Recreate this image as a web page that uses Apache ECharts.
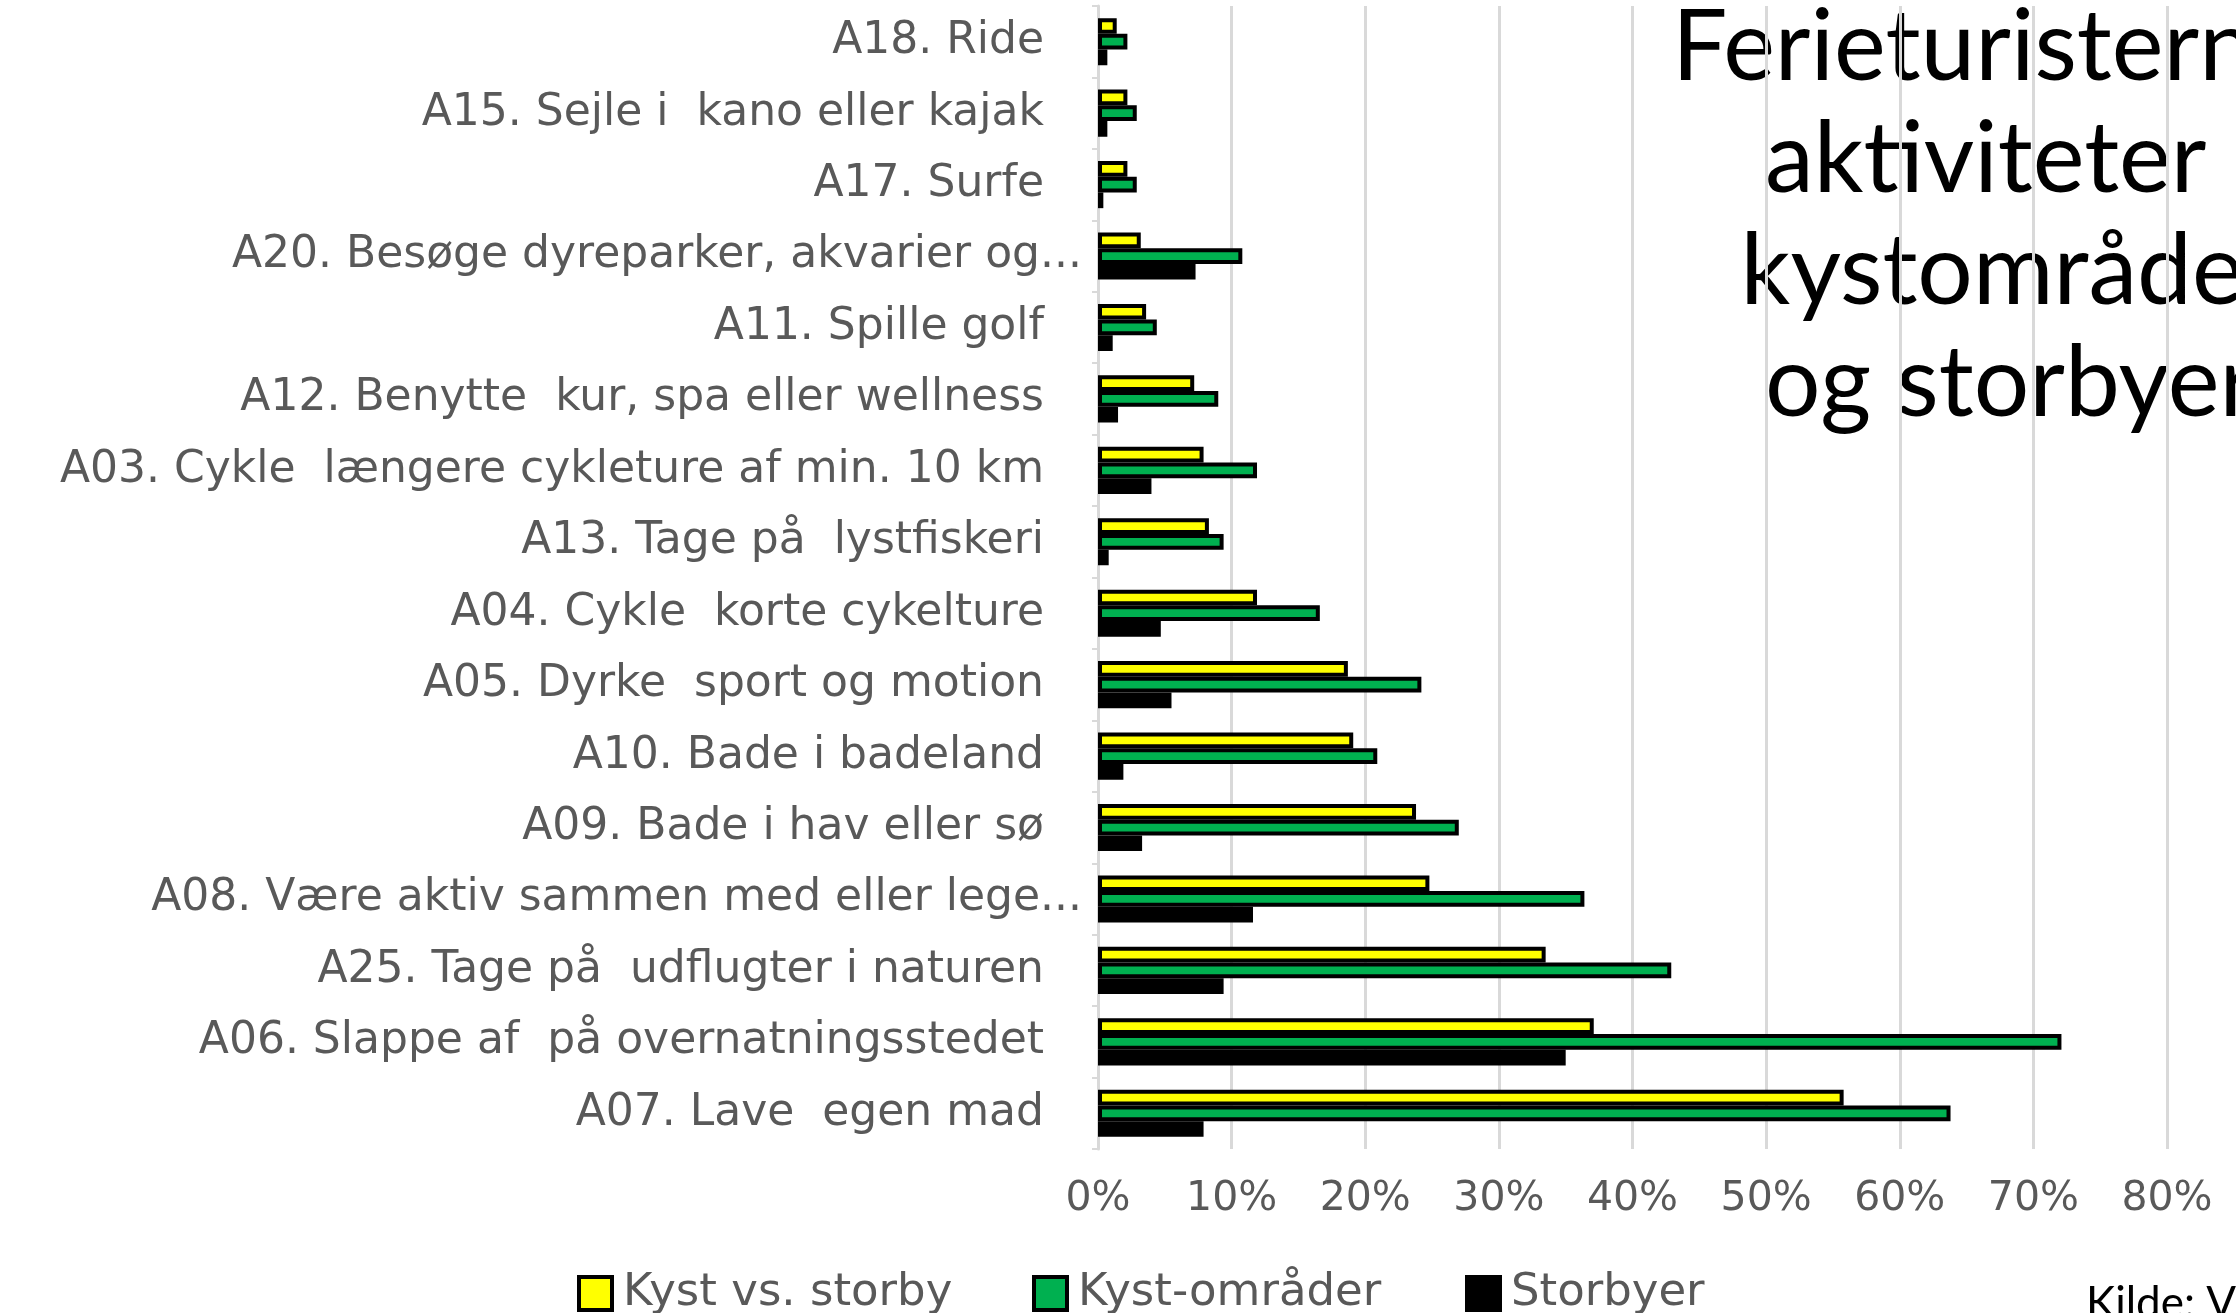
<!DOCTYPE html>
<html>
<head>
<meta charset="utf-8">
<script src="https://cdn.jsdelivr.net/npm/echarts@6/dist/echarts.min.js"></script>
<style>
html,body{margin:0;padding:0;background:#fff;}
#chart{width:2236px;height:1313px;}
</style>
</head>
<body>
<div id="chart"></div>
<script>
// Categories, listed top to bottom as in the picture
const categories = [
  "A18. Ride",
  "A15. Sejle i  kano eller kajak",
  "A17. Surfe",
  "A20. Besøge dyreparker, akvarier og...",
  "A11. Spille golf",
  "A12. Benytte  kur, spa eller wellness",
  "A03. Cykle  længere cykleture af min. 10 km",
  "A13. Tage på  lystfiskeri",
  "A04. Cykle  korte cykelture",
  "A05. Dyrke  sport og motion",
  "A10. Bade i badeland",
  "A09. Bade i hav eller sø",
  "A08. Være aktiv sammen med eller lege...",
  "A25. Tage på  udflugter i naturen",
  "A06. Slappe af  på overnatningsstedet",
  "A07. Lave  egen mad"
];
// Values in percent
const kystVsStorby = [1.4, 2.2, 2.2, 3.2, 3.6, 7.2, 7.9, 8.3, 11.9, 18.7, 19.1, 23.8, 24.8, 33.5, 37.1, 55.8];
const kystOmrader  = [2.2, 2.9, 2.9, 10.8, 4.4, 9.0, 11.9, 9.4, 16.6, 24.2, 20.9, 27.0, 36.4, 42.9, 72.1, 63.8];
const storbyer     = [0.7, 0.7, 0.4, 7.3, 1.1, 1.5, 4.0, 0.8, 4.7, 5.5, 1.9, 3.3, 11.6, 9.4, 35.0, 7.9];

const seriesNames = ["Kyst vs. storby", "Kyst-områder", "Storbyer"];
const titleLines = ["Ferieturisternes", "aktiviteter i", "kystområder", "og storbyer"];
const sourceText = "Kilde: VisitDenmark";

const axisMin = 0, axisMax = 80, axisStep = 10;

const labelFont = "DejaVu Sans";
const chart = echarts.init(document.getElementById('chart'), null, {renderer: 'canvas'});

const barCommon = {
  type: 'bar',
  barGap: '0%',
  barCategoryGap: '34%',
  animation: false
};

const legendText = {fontFamily: labelFont, fontSize: 45, color: '#595959', padding: [0, 0, 0, 6]};

const titleGraphics = titleLines.map((t, i) => ({
  type: 'text',
  x: 2010,
  y: 48 + i * 112,
  style: {
    text: t,
    font: '400 98px Lato',
    fill: '#000',
    textAlign: 'center',
    textVerticalAlign: 'middle'
  }
}));

const legendCommon = {top: 1266, itemWidth: 33, itemHeight: 33, itemGap: 0, icon: 'rect', textStyle: legendText,
  itemStyle: {borderWidth: 4}};

chart.setOption({
  backgroundColor: '#fff',
  animation: false,
  grid: {left: 1098, right: 69, top: 6, bottom: 164, containLabel: false},
  xAxis: {
    type: 'value',
    min: axisMin, max: axisMax, interval: axisStep,
    axisLine: {show: false},
    axisTick: {show: false},
    splitLine: {show: true, lineStyle: {color: '#d9d9d9', width: 3}},
    axisLabel: {
      formatter: v => v + '%',
      fontFamily: labelFont, fontSize: 41, color: '#595959', margin: 30
    }
  },
  yAxis: {
    type: 'category',
    inverse: true,
    data: categories,
    axisLine: {show: true, lineStyle: {color: '#d9d9d9', width: 3}},
    axisTick: {show: true, length: 6, lineStyle: {color: '#d9d9d9', width: 2}},
    splitLine: {show: false},
    axisLabel: {
      margin: 16,
      fontFamily: labelFont, fontSize: 44, color: '#595959',
      formatter: v => v.endsWith('...') ? '{t|' + v + '}' : '{n|' + v + '}',
      rich: {
        t: {fontFamily: labelFont, fontSize: 44, color: '#595959'},
        n: {fontFamily: labelFont, fontSize: 44, color: '#595959', padding: [0, 38, 0, 0]}
      }
    }
  },
  legend: [
    Object.assign({data: [seriesNames[0]], left: 572}, legendCommon),
    Object.assign({data: [seriesNames[1]], left: 1027}, legendCommon),
    Object.assign({data: [seriesNames[2]], left: 1460}, legendCommon)
  ],
  graphic: titleGraphics.concat([{
    type: 'text',
    x: 2086,
    y: 1304,
    style: {
      text: sourceText,
      font: '44px Lato',
      fill: '#000',
      textAlign: 'left',
      textVerticalAlign: 'middle'
    }
  }]),
  series: [
    Object.assign({}, barCommon, {
      name: seriesNames[0], data: kystVsStorby,
      itemStyle: {color: '#FFFF00', borderColor: '#000', borderWidth: 4}
    }),
    Object.assign({}, barCommon, {
      name: seriesNames[1], data: kystOmrader,
      itemStyle: {color: '#00B050', borderColor: '#000', borderWidth: 4}
    }),
    Object.assign({}, barCommon, {
      name: seriesNames[2], data: storbyer,
      itemStyle: {color: '#000000', borderColor: '#000', borderWidth: 4}
    })
  ]
});
</script>
</body>
</html>
